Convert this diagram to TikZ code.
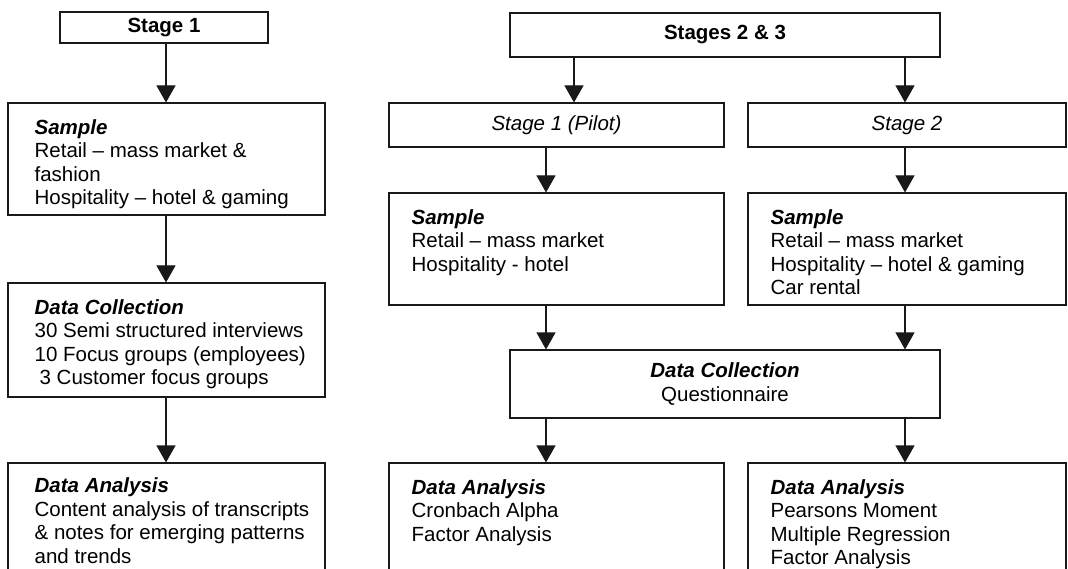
\documentclass[tikz,border=0pt]{standalone}
\usepackage{fontspec}
\setmainfont{Liberation Sans}
\usetikzlibrary{arrows.meta}
\begin{document}
\begin{tikzpicture}[x=1pt,y=-1pt,
  bx/.style={draw=black!90, line width=1.1pt, rectangle, inner sep=0pt},
  txt/.style={inner sep=0pt, align=left, anchor=north west, font=\fontsize{20.5}{23.5}\selectfont},
  ctxt/.style={inner sep=0pt, align=center, font=\fontsize{20.5}{23.5}\selectfont},
  arr/.style={draw=black!90, line width=1.1pt, -{Triangle[width=19pt,length=17pt]}}
]
\useasboundingbox (0,0) rectangle (1068,569);
\fill[white] (0,0) rectangle (1068,569);
\clip (0,0) rectangle (1068,569);

% column coordinates for connectors
\coordinate (cL) at (166,0);
\coordinate (cA) at (546,0);
\coordinate (cB) at (574,0);
\coordinate (cC) at (905,0);

% left column
\node[bx, minimum width=208pt, minimum height=31pt] (s1) at (164,27.5) {};
\node[ctxt] (s1t) at (s1.center) {\textbf{Stage 1}};

\node[bx, minimum width=317pt, minimum height=112pt] (samL) at (166.5,159) {};
\node[txt] (samLt) at ([xshift=27pt,yshift=-16.5pt]samL.north west)
  {\textbf{\textit{Sample}}\\Retail – mass market \&\\fashion\\Hospitality – hotel \& gaming};

\node[bx, minimum width=317pt, minimum height=114pt] (dcL) at (166.5,340) {};
\node[txt] (dcLt) at ([xshift=27pt,yshift=-16.5pt]dcL.north west)
  {\textbf{\textit{Data Collection}}\\30 Semi structured interviews\\10 Focus groups (employees)\\\hspace*{5pt}3 Customer focus groups};

\node[bx, minimum width=317pt, minimum height=160pt] (daL) at (166.5,543) {};
\node[txt] (daLt) at ([xshift=27pt,yshift=-15pt]daL.north west)
  {\textbf{\textit{Data Analysis}}\\Content analysis of transcripts\\\& notes for emerging patterns\\and trends};

% right part
\node[bx, minimum width=430pt, minimum height=44pt] (s23) at (725,35) {};
\node[ctxt] (s23t) at (s23.center) {\textbf{Stages 2 \& 3}};

\node[bx, minimum width=335pt, minimum height=44pt] (pil) at (556.5,125) {};
\node[ctxt] (pilt) at (pil.center) {\textit{Stage 1 (Pilot)}};

\node[bx, minimum width=318pt, minimum height=44pt] (st2) at (907,125) {};
\node[ctxt] (st2t) at (st2.center) {\textit{Stage 2}};

\node[bx, minimum width=335pt, minimum height=112pt] (samM) at (556.5,249) {};
\node[txt] (samMt) at ([xshift=23pt,yshift=-16.5pt]samM.north west)
  {\textbf{\textit{Sample}}\\Retail – mass market\\Hospitality - hotel};

\node[bx, minimum width=318pt, minimum height=112pt] (samR) at (907,249) {};
\node[txt] (samRt) at ([xshift=23pt,yshift=-16.5pt]samR.north west)
  {\textbf{\textit{Sample}}\\Retail – mass market\\Hospitality – hotel \& gaming\\Car rental};

\node[bx, minimum width=430pt, minimum height=68pt] (dcM) at (725,384) {};
\node[ctxt] (dcMt) at (dcM.center) {\textbf{\textit{Data Collection}}\\Questionnaire};

\node[bx, minimum width=335pt, minimum height=160pt] (daM) at (556.5,543) {};
\node[txt] (daMt) at ([xshift=23pt,yshift=-16.5pt]daM.north west)
  {\textbf{\textit{Data Analysis}}\\Cronbach Alpha\\Factor Analysis};

\node[bx, minimum width=318pt, minimum height=160pt] (daR) at (907,543) {};
\node[txt] (daRt) at ([xshift=23pt,yshift=-16.5pt]daR.north west)
  {\textbf{\textit{Data Analysis}}\\Pearsons Moment\\Multiple Regression\\Factor Analysis};

% connectors
\draw[arr] (s1.south -| cL) -- (samL.north -| cL);
\draw[arr] (samL.south -| cL) -- (dcL.north -| cL);
\draw[arr] (dcL.south -| cL) -- (daL.north -| cL);

\draw[arr] (s23.south -| cB) -- (pil.north -| cB);
\draw[arr] (s23.south -| cC) -- (st2.north -| cC);
\draw[arr] (pil.south -| cA) -- (samM.north -| cA);
\draw[arr] (st2.south -| cC) -- (samR.north -| cC);
\draw[arr] (samM.south -| cA) -- (dcM.north -| cA);
\draw[arr] (samR.south -| cC) -- (dcM.north -| cC);
\draw[arr] (dcM.south -| cA) -- (daM.north -| cA);
\draw[arr] (dcM.south -| cC) -- (daR.north -| cC);
\end{tikzpicture}
\end{document}
